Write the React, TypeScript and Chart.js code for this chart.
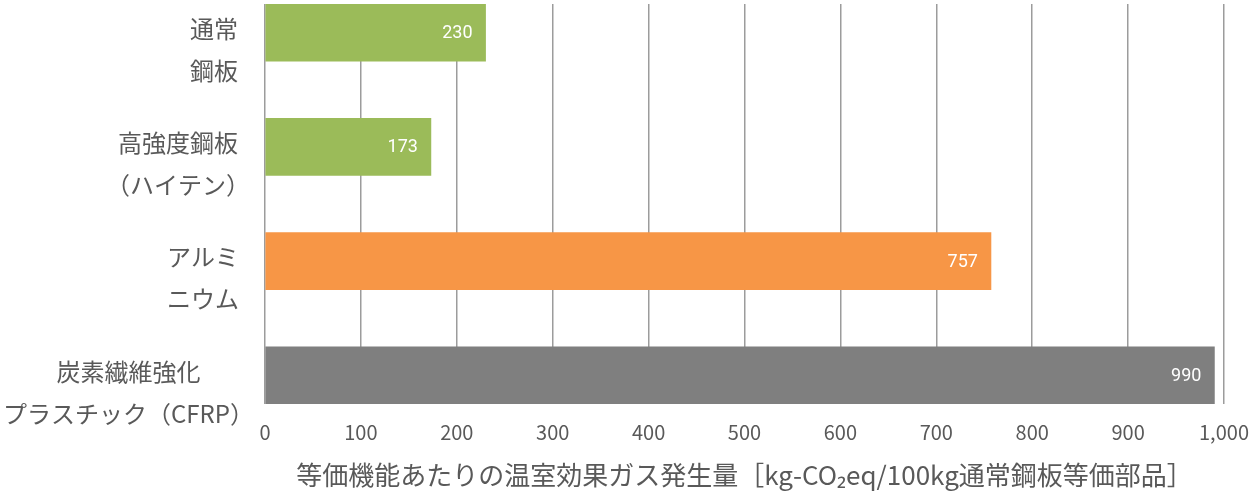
import React, { useEffect, useRef } from "react";
import { Chart, registerables } from "chart.js";

Chart.register(...registerables);

// ---- data ----
const categories: string[][] = [
  ["通常", "鋼板"],
  ["高強度鋼板", "（ハイテン）"],
  ["アルミ", "ニウム"],
  ["炭素繊維強化", "プラスチック（CFRP）"],
];
const values: number[] = [230, 173, 757, 990];
const barColors: string[] = ["#9BBB59", "#9BBB59", "#F79646", "#7F7F7F"];
const xMin = 0;
const xMax = 1000;
const xStep = 100;
const axisTitle = "等価機能あたりの温室効果ガス発生量［kg-CO₂eq/100kg通常鋼板等価部品］";

const TEXT_COLOR = "#595959";
const CJK_FONT = '"Noto Sans CJK JP", "Noto Sans", sans-serif';

const valueLabelPlugin = {
  id: "valueLabels",
  afterDatasetsDraw(chart: any) {
    const meta = chart.getDatasetMeta(0);
    const ctx = chart.ctx;
    ctx.save();
    ctx.font = '18px Roboto, "Noto Sans", sans-serif';
    ctx.fillStyle = "#ffffff";
    ctx.textAlign = "right";
    ctx.textBaseline = "middle";
    meta.data.forEach((bar: any, i: number) => {
      ctx.fillText(String(values[i]), bar.x - 13, bar.y + 1);
    });
    ctx.restore();
  },
};

const categoryLabelPlugin = {
  id: "categoryLabels",
  afterDraw(chart: any) {
    const y = chart.scales.y;
    const ctx = chart.ctx;
    const rightEdge = chart.chartArea.left - 27;
    ctx.save();
    ctx.font = "24px " + CJK_FONT;
    ctx.fillStyle = TEXT_COLOR;
    ctx.textAlign = "center";
    ctx.textBaseline = "middle";
    categories.forEach((lines, i) => {
      const cy = y.getPixelForValue(i) + 17;
      const ms = lines.map((l) => ctx.measureText(l));
      const inkRight = Math.max(...ms.map((m: any) => m.actualBoundingBoxRight));
      const inkLeft = Math.max(...ms.map((m: any) => m.actualBoundingBoxLeft));
      let cx = rightEdge - inkRight;
      if (cx - inkLeft < 4) cx = 4 + inkLeft;
      lines.forEach((l, k) => {
        ctx.fillText(l, cx, cy + (k - (lines.length - 1) / 2) * 42);
      });
    });
    ctx.restore();
  },
};

export default function App() {
  const canvasRef = useRef<HTMLCanvasElement | null>(null);

  useEffect(() => {
    if (!canvasRef.current) return;
    const chart = new Chart(canvasRef.current, {
      type: "bar",
      data: {
        datasets: [
          {
            data: values.map((v, i) => ({ x: v, y: i })) as any,
            backgroundColor: barColors,
            borderWidth: 0,
            barThickness: 57,
          },
        ],
      },
      options: {
        indexAxis: "y",
        responsive: false,
        animation: false,
        layout: { padding: { top: 4, right: 34, bottom: 0, left: 0 } },
        plugins: {
          legend: { display: false },
          tooltip: { enabled: false },
        },
        scales: {
          x: {
            type: "linear",
            min: xMin,
            max: xMax,
            offset: false,
            grid: {
              color: "#9c9c9c",
              lineWidth: 1.5,
              drawTicks: false,
              offset: false,
            },
            border: { display: false },
            ticks: {
              stepSize: xStep,
              padding: 16,
              maxRotation: 0,
              color: TEXT_COLOR,
              font: { size: 20, family: CJK_FONT },
              callback: (v: any) => Number(v).toLocaleString("en-US"),
            },
            title: {
              display: true,
              text: axisTitle,
              color: TEXT_COLOR,
              font: { size: 26, family: CJK_FONT },
              padding: { top: 0, bottom: 5 },
            },
            afterFit: (scale: any) => {
              scale.height = 92;
              scale.paddingLeft = 0;
              scale.paddingRight = 0;
            },
          },
          y: {
            type: "linear",
            reverse: true,
            min: -0.25,
            max: 3.25,
            offset: false,
            grid: { display: false, offset: false },
            border: { display: false },
            ticks: { display: false },
            afterFit: (scale: any) => {
              scale.width = 265;
              scale.paddingTop = 0;
              scale.paddingBottom = 0;
            },
          },
        },
      } as any,
      plugins: [valueLabelPlugin, categoryLabelPlugin],
    });
    return () => chart.destroy();
  }, []);

  return (
    <div style={{ position: "fixed", left: 0, top: 0, width: 1258, height: 496, background: "#fff" }}>
      <canvas ref={canvasRef} width={1258} height={496} style={{ display: "block" }} />
    </div>
  );
}
